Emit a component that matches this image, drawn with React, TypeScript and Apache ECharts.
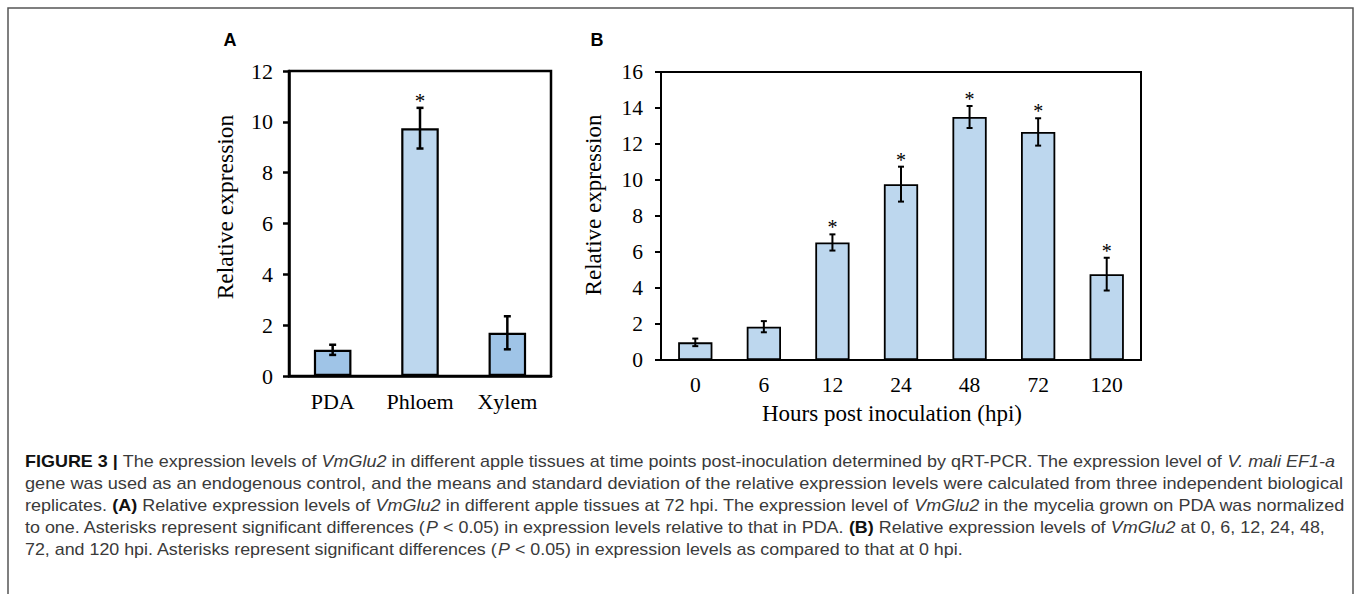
import React, { useEffect, useRef } from 'react';
import * as echarts from 'echarts';

// ---- Data ----
const tissueCategories = ['PDA', 'Phloem', 'Xylem'];
const tissueMeans = [1.03, 9.75, 1.7];
const tissueErrors = [0.2, 0.8, 0.65];
const tissueSignificant = [false, true, false];

const hpiCategories = ['0', '6', '12', '24', '48', '72', '120'];
const hpiMeans = [0.98, 1.85, 6.53, 9.77, 13.5, 12.67, 4.77];
const hpiErrors = [0.21, 0.31, 0.45, 0.97, 0.61, 0.76, 0.91];
const hpiSignificant = [false, false, true, true, true, true, true];

const tissueAxisMin = 0;
const tissueAxisMax = 12;
const tissueAxisStep = 2;
const hpiAxisMin = 0;
const hpiAxisMax = 16;
const hpiAxisStep = 2;

const yAxisTitle = 'Relative expression';
const xAxisTitleB = 'Hours post inoculation (hpi)';
const panelLabels = ['A', 'B'];

type Seg = [string, 'n' | 'b' | 'i'];
const captionLines: Seg[][] = [
  [['FIGURE 3 | ', 'b'], ['The expression levels of ', 'n'], ['VmGlu2', 'i'], [' in different apple tissues at time points post-inoculation determined by qRT-PCR. The expression level of ', 'n'], ['V. mali EF1-a', 'i']],
  [['gene was used as an endogenous control, and the means and standard deviation of the relative expression levels were calculated from three independent biological', 'n']],
  [['replicates. ', 'n'], ['(A)', 'b'], [' Relative expression levels of ', 'n'], ['VmGlu2', 'i'], [' in different apple tissues at 72 hpi. The expression level of ', 'n'], ['VmGlu2', 'i'], [' in the mycelia grown on PDA was normalized', 'n']],
  [['to one. Asterisks represent significant differences (', 'n'], ['P', 'i'], [' < 0.05) in expression levels relative to that in PDA. ', 'n'], ['(B)', 'b'], [' Relative expression levels of ', 'n'], ['VmGlu2', 'i'], [' at 0, 6, 12, 24, 48,', 'n']],
  [['72, and 120 hpi. Asterisks represent significant differences (', 'n'], ['P', 'i'], [' < 0.05) in expression levels as compared to that at 0 hpi.', 'n']],
];

const SERIF = '"Liberation Serif", "Times New Roman", serif';
const SANS = '"Liberation Sans", Arial, sans-serif';

function errorRenderer(capHalf: number, lw: number, starSize: number) {
  return (params: any, api: any) => {
    const x = api.value(0);
    const m = api.value(1);
    const e = api.value(2);
    const sig = api.value(3);
    const top = api.coord([x, m + e]);
    const bot = api.coord([x, m - e]);
    const st = { stroke: '#000', lineWidth: lw };
    const children: any[] = [
      { type: 'line', shape: { x1: top[0], y1: top[1], x2: bot[0], y2: bot[1] }, style: st },
      { type: 'line', shape: { x1: top[0] - capHalf, y1: top[1], x2: top[0] + capHalf, y2: top[1] }, style: st },
      { type: 'line', shape: { x1: bot[0] - capHalf, y1: bot[1], x2: bot[0] + capHalf, y2: bot[1] }, style: st },
    ];
    if (sig) {
      children.push({
        type: 'text',
        x: top[0],
        y: top[1] - 7,
        style: { text: '*', fill: '#000', fontSize: starSize, fontFamily: SERIF, align: 'center', verticalAlign: 'middle' },
      });
    }
    return { type: 'group', children };
  };
}

export default function App() {
  const ref = useRef<HTMLDivElement>(null);

  useEffect(() => {
    if (!ref.current) return;
    const chart = echarts.init(ref.current, null, { renderer: 'svg' });

    // caption layout
    const ctx = document.createElement('canvas').getContext('2d')!;
    const capSize = 16;
    const fontFor = (k: string) =>
      (k === 'b' ? 'bold ' : k === 'i' ? 'italic ' : '') + capSize + 'px "Liberation Sans"';
    const lineEnds = [1335, 1344, 1346, 1325, 963];
    const lineYs = [462, 484, 506, 528, 550];
    const capLeft = 25;
    const captionGraphics: any[] = [];
    const widths = captionLines.map((segs) =>
      segs.reduce((acc, [t, k]) => {
        ctx.font = fontFor(k);
        return acc + ctx.measureText(t).width;
      }, 0)
    );
    captionLines.forEach((segs, li) => {
      const s = (lineEnds[li] - capLeft) / widths[li];
      let cx = 0;
      const children: any[] = [];
      segs.forEach(([t, k]) => {
        ctx.font = fontFor(k);
        const w = ctx.measureText(t).width;
        children.push({
          type: 'text',
          x: cx,
          y: 0,
          style: {
            text: t,
            fill: k === 'b' ? '#111' : '#3a3a3a',
            fontSize: capSize,
            fontFamily: '"Liberation Sans"',
            fontWeight: k === 'b' ? 'bold' : 'normal',
            fontStyle: k === 'i' ? 'italic' : 'normal',
            align: 'left',
            verticalAlign: 'middle',
          },
        });
        cx += w;
      });
      captionGraphics.push({ type: 'group', x: capLeft, y: lineYs[li], scaleX: s, children });
    });

    const axisLabelA = { color: '#000', fontFamily: SERIF, fontSize: 22 };
    const axisLabelB = { color: '#000', fontFamily: SERIF, fontSize: 21.5 };

    const option: any = {
      animation: false,
      grid: [
        { left: 289, top: 71, width: 262, height: 305, show: true, borderColor: '#000', borderWidth: 2.5, backgroundColor: 'transparent' },
        { left: 661, top: 72, width: 480, height: 288, show: true, borderColor: '#000', borderWidth: 2, backgroundColor: 'transparent' },
      ],
      xAxis: [
        {
          type: 'category', gridIndex: 0, data: tissueCategories,
          axisLine: { lineStyle: { color: '#000', width: 2.5 } },
          axisTick: { alignWithLabel: true, length: 6, lineStyle: { color: '#000', width: 2.5 } },
          axisLabel: { ...axisLabelA, margin: 14, lineHeight: 22, interval: 0, hideOverlap: false },
        },
        {
          type: 'category', gridIndex: 1, data: hpiCategories,
          axisLine: { lineStyle: { color: '#000', width: 2 } },
          axisTick: { alignWithLabel: true, length: 5, lineStyle: { color: '#000', width: 2 } },
          axisLabel: { ...axisLabelB, margin: 14, lineHeight: 22, interval: 0, hideOverlap: false },
        },
      ],
      yAxis: [
        {
          type: 'value', gridIndex: 0, min: tissueAxisMin, max: tissueAxisMax, interval: tissueAxisStep,
          axisLine: { show: true, lineStyle: { color: '#000', width: 2.5 } },
          axisTick: { show: true, length: 6, lineStyle: { color: '#000', width: 2.5 } },
          splitLine: { show: false },
          axisLabel: { ...axisLabelA, margin: 16 },
        },
        {
          type: 'value', gridIndex: 1, min: hpiAxisMin, max: hpiAxisMax, interval: hpiAxisStep,
          axisLine: { show: true, lineStyle: { color: '#000', width: 2 } },
          axisTick: { show: true, length: 6, lineStyle: { color: '#000', width: 2 } },
          splitLine: { show: false },
          axisLabel: { ...axisLabelB, margin: 18 },
        },
      ],
      series: [
        {
          type: 'bar', xAxisIndex: 0, yAxisIndex: 0, barWidth: '43%',
          data: tissueMeans.map((v, i) => ({
            value: v,
            itemStyle: { color: i === 1 ? '#bdd7ee' : '#9fc4e7', borderColor: '#000', borderWidth: 2.2 },
          })),
        },
        {
          type: 'custom', xAxisIndex: 0, yAxisIndex: 0, encode: { x: 0, y: 1 },
          renderItem: errorRenderer(3.5, 2.5, 21),
          data: tissueMeans.map((m, i) => [i, m, tissueErrors[i], tissueSignificant[i] ? 1 : 0]),
          z: 5,
        },
        {
          type: 'bar', xAxisIndex: 1, yAxisIndex: 1, barWidth: '50%',
          itemStyle: { color: '#bdd7ee', borderColor: '#000', borderWidth: 1.8 },
          data: hpiMeans,
        },
        {
          type: 'custom', xAxisIndex: 1, yAxisIndex: 1, encode: { x: 0, y: 1 },
          renderItem: errorRenderer(3, 2, 20),
          data: hpiMeans.map((m, i) => [i, m, hpiErrors[i], hpiSignificant[i] ? 1 : 0]),
          z: 5,
        },
      ],
      graphic: [
        { type: 'rect', shape: { x: 8, y: 8, width: 1345, height: 600 }, style: { fill: 'none', stroke: '#555', lineWidth: 1.5 }, silent: true },
        { type: 'text', x: 230, y: 40, style: { text: panelLabels[0], fontFamily: SANS, fontWeight: 'bold', fontSize: 18, fill: '#000', align: 'center', verticalAlign: 'middle' } },
        { type: 'text', x: 597, y: 40, style: { text: panelLabels[1], fontFamily: SANS, fontWeight: 'bold', fontSize: 18, fill: '#000', align: 'center', verticalAlign: 'middle' } },
        { type: 'text', x: 225, y: 207, rotation: Math.PI / 2, style: { text: yAxisTitle, fontFamily: SERIF, fontSize: 23.5, fill: '#000', align: 'center', verticalAlign: 'middle' } },
        { type: 'text', x: 593, y: 205, rotation: Math.PI / 2, style: { text: yAxisTitle, fontFamily: SERIF, fontSize: 23, fill: '#000', align: 'center', verticalAlign: 'middle' } },
        { type: 'text', x: 892, y: 413, style: { text: xAxisTitleB, fontFamily: SERIF, fontSize: 23, fill: '#000', align: 'center', verticalAlign: 'middle' } },
        ...captionGraphics,
      ],
    };
    chart.setOption(option);
    return () => chart.dispose();
  }, []);

  return <div ref={ref} style={{ position: 'absolute', left: 0, top: 0, width: 1358, height: 594, background: '#fff' }} />;
}
